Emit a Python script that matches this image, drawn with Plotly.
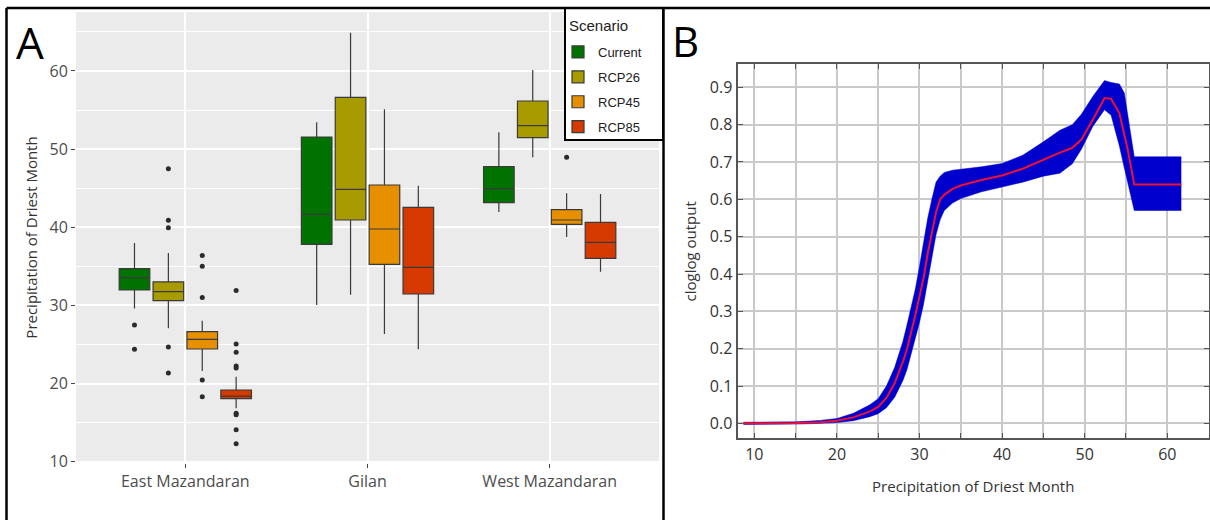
import plotly.graph_objects as go

W, H = 1210, 520

# ---------------- Panel A data ----------------
regions = ["East Mazandaran", "Gilan", "West Mazandaran"]
scenarios = ["Current", "RCP26", "RCP45", "RCP85"]
colors = ["#007200", "#A89B00", "#E69000", "#D63A00"]

# stats per scenario, ordered by region
lowerfence = {
    "Current": [29.6, 30.05, 41.95],
    "RCP26":   [27.06, 31.37, 48.95],
    "RCP45":   [21.6, 26.34, 38.75],
    "RCP85":   [16.83, 24.38, 34.32],
}
q1 = {
    "Current": [31.97, 37.82, 43.15],
    "RCP26":   [30.6, 40.93, 51.47],
    "RCP45":   [24.42, 35.26, 40.38],
    "RCP85":   [18.06, 31.46, 36.02],
}
median = {
    "Current": [33.55, 41.66, 44.94],
    "RCP26":   [31.76, 44.85, 53.0],
    "RCP45":   [25.66, 39.78, 40.93],
    "RCP85":   [18.4, 34.87, 38.07],
}
q3 = {
    "Current": [34.7, 51.55, 47.76],
    "RCP26":   [33.0, 56.63, 56.16],
    "RCP45":   [26.64, 45.41, 42.25],
    "RCP85":   [19.17, 42.55, 40.63],
}
upperfence = {
    "Current": [38.0, 53.43, 52.15],
    "RCP26":   [36.7, 64.9, 60.13],
    "RCP45":   [28.05, 55.1, 44.34],
    "RCP85":   [20.88, 45.32, 44.26],
}
outliers = {
    "Current": [[27.5, 24.4], [], []],
    "RCP26":   [[47.5, 40.9, 39.95, 24.67, 21.35], [], []],
    "RCP45":   [[36.4, 35.0, 31.0, 20.45, 18.3], [], [48.95]],
    "RCP85":   [[31.9, 25.06, 24.0, 22.24, 22.0, 16.2, 16.0, 14.1, 12.3], [], []],
}

# ---------------- Panel B data ----------------
precip_x = [8.7, 12, 15, 18, 20, 22, 24, 25, 26, 27, 28, 28.5, 29, 29.5, 30, 30.5, 31, 31.5, 32,
            32.5, 33, 34, 35, 37.5, 40, 42.5, 45, 47, 48.5, 49.6, 51, 52.4, 53.2, 54.2, 54.8,
            55.2, 56, 58, 61.7]
resp_mean = [0.0, 0.0, 0.001, 0.003, 0.007, 0.016, 0.032, 0.044, 0.068, 0.108, 0.165, 0.20, 0.242,
             0.29, 0.34, 0.39, 0.455, 0.51, 0.565, 0.60, 0.612, 0.628, 0.637, 0.652, 0.664, 0.682,
             0.707, 0.725, 0.738, 0.76, 0.814, 0.871, 0.869, 0.831, 0.773, 0.734, 0.64, 0.64, 0.64]
resp_upper = [0.003, 0.003, 0.004, 0.008, 0.013, 0.027, 0.05, 0.066, 0.1, 0.15, 0.22, 0.265, 0.31,
              0.36, 0.42, 0.49, 0.55, 0.60, 0.646, 0.662, 0.672, 0.678, 0.68, 0.687, 0.696, 0.718,
              0.754, 0.785, 0.80, 0.828, 0.876, 0.918, 0.913, 0.909, 0.885, 0.826, 0.714, 0.714, 0.714]
resp_lower = [-0.003, -0.003, -0.002, 0.0, 0.002, 0.007, 0.018, 0.026, 0.042, 0.07, 0.115, 0.145,
              0.185, 0.23, 0.27, 0.32, 0.385, 0.445, 0.505, 0.545, 0.57, 0.59, 0.602, 0.62, 0.633,
              0.646, 0.662, 0.67, 0.695, 0.734, 0.796, 0.84, 0.825, 0.743, 0.684, 0.645, 0.57, 0.57, 0.57]

fig = go.Figure()

slot = 0.186
box_w = 0.168
for si, sc in enumerate(scenarios):
    off = (si - 1.5) * slot
    xs = [ri + off for ri in range(len(regions))]
    fig.add_trace(go.Box(
        name=sc, x=xs, q1=q1[sc], median=median[sc], q3=q3[sc],
        lowerfence=lowerfence[sc], upperfence=upperfence[sc],
        width=box_w, fillcolor=colors[si],
        line=dict(color="#3a3a3a", width=1.2), whiskerwidth=0,
        boxpoints=False, legendgroup=sc,
        xaxis="x", yaxis="y",
    ))
    ox, oy = [], []
    for ri in range(len(regions)):
        for v in outliers[sc][ri]:
            ox.append(ri + off)
            oy.append(v)
    fig.add_trace(go.Scatter(
        x=ox, y=oy, mode="markers", marker=dict(color="#2b2b2b", size=5),
        showlegend=False, hoverinfo="y", xaxis="x", yaxis="y",
    ))

# Panel B
fig.add_trace(go.Scatter(x=precip_x, y=resp_lower, mode="lines", line=dict(width=0.5, color="#0000CC"),
                         showlegend=False, xaxis="x2", yaxis="y2"))
fig.add_trace(go.Scatter(x=precip_x, y=resp_upper, mode="lines", line=dict(width=0.5, color="#0000CC"),
                         fill="tonexty", fillcolor="#0000CC", showlegend=False, xaxis="x2", yaxis="y2"))
fig.add_trace(go.Scatter(x=precip_x, y=resp_mean, mode="lines", line=dict(width=2.0, color="#EE1133"),
                         showlegend=False, xaxis="x2", yaxis="y2"))

def px(x):
    return x / W

def py(y):
    return 1 - y / H

fontA = "Open Sans"
fig.update_layout(
    width=W, height=H, margin=dict(l=0, r=0, t=0, b=0, autoexpand=False),
    paper_bgcolor="white", plot_bgcolor="white",
    boxmode="overlay",
    xaxis=dict(domain=[px(76), px(659)], range=[-0.6, 2.6], tickvals=[0, 1, 2], ticktext=regions,
               showgrid=True, gridcolor="white", gridwidth=1.5, zeroline=False,
               ticks="outside", ticklen=4, tickcolor="#444444",
               tickfont=dict(family=fontA, size=16, color="#4D4D4D"), anchor="y"),
    yaxis=dict(domain=[py(463), py(12)], range=[9.83, 67.55], tickvals=[10, 20, 30, 40, 50, 60],
               showgrid=True, gridcolor="white", gridwidth=1.5, zeroline=False,
               minor=dict(dtick=5, tick0=5, showgrid=True, gridcolor="white", gridwidth=0.7),
               ticks="outside", ticklen=4, tickcolor="#444444",
               tickfont=dict(family=fontA, size=16, color="#4D4D4D"),
               title=dict(text="Precipitation of Driest Month", font=dict(family=fontA, size=15, color="#333333"),
                          standoff=8),
               anchor="x"),
    xaxis2=dict(domain=[px(737.5), px(1209)], range=[7.97, 65.05], dtick=10, tick0=0,
                showgrid=True, gridcolor="#C9C9C9", gridwidth=1.5, zeroline=False,
                minor=dict(dtick=5, tick0=0, showgrid=True, gridcolor="#C9C9C9", gridwidth=1.5,
                           ticks="inside", ticklen=5, tickcolor="#555555"),
                ticks="inside", ticklen=5, tickcolor="#555555",
                showline=True, linecolor="#555555", linewidth=2, mirror="allticks",
                tickfont=dict(family=fontA, size=16, color="#333333"),
                title=dict(text="Precipitation of Driest Month", font=dict(family=fontA, size=15, color="#333333"),
                           standoff=18),
                anchor="y2"),
    yaxis2=dict(domain=[py(438.3), py(64.3)], range=[-0.040, 0.9616], dtick=0.1, tick0=0, tickformat=".1f",
                showgrid=True, gridcolor="#C9C9C9", gridwidth=1.5, zeroline=False,
                ticks="inside", ticklen=5, tickcolor="#555555",
                showline=True, linecolor="#555555", linewidth=2, mirror="allticks",
                tickfont=dict(family=fontA, size=16, color="#333333"),
                title=dict(text="cloglog output", font=dict(family=fontA, size=15, color="#333333"),
                           standoff=10),
                anchor="x2"),
    legend=dict(x=px(558), xanchor="left", y=py(37), yanchor="top",
                bgcolor="rgba(0,0,0,0)", borderwidth=0,
                font=dict(family="Liberation Sans", size=13, color="#222222"),
                tracegroupgap=5, itemwidth=30),
    showlegend=True,
)

# grey panel background for A
fig.add_shape(type="rect", xref="paper", yref="paper", x0=px(76), x1=px(659), y0=py(463), y1=py(12),
              fillcolor="#EBEBEB", line=dict(width=0), layer="below")

# legend frame
fig.add_shape(type="rect", xref="paper", yref="paper", x0=px(565), x1=px(663), y0=py(140), y1=py(8),
              fillcolor="white", line=dict(color="black", width=2), layer="above")
fig.add_annotation(text="Scenario", xref="paper", yref="paper", x=px(567), y=py(25), xanchor="left",
                   yanchor="middle", showarrow=False,
                   font=dict(family="Liberation Sans", size=15, color="#222222"))

# panel borders
for (x0, y0, x1, y1) in [(6.5, 8, 1210, 8), (6.5, 8, 6.5, 520), (663.5, 8, 663.5, 520)]:
    fig.add_shape(type="line", xref="paper", yref="paper", x0=px(x0), y0=py(y0), x1=px(x1), y1=py(y1),
                  line=dict(color="black", width=2.5))

fig.add_annotation(text="A", xref="paper", yref="paper", x=px(14), y=py(10), xanchor="left", yanchor="top",
                   showarrow=False, font=dict(family=fontA, size=44, color="black"))
fig.add_annotation(text="B", xref="paper", yref="paper", x=px(670), y=py(10), xanchor="left", yanchor="top",
                   showarrow=False, font=dict(family=fontA, size=42, color="black"))

post = ("document.documentElement.style.margin='0';document.documentElement.style.padding='0';"
        "document.documentElement.style.overflow='hidden';"
        "document.body.style.margin='0';document.body.style.padding='0';"
        "document.body.style.overflow='hidden';document.body.style.height='520px';")
fig.write_html("out.html", post_script=post,
               config={"displayModeBar": False, "responsive": False})
